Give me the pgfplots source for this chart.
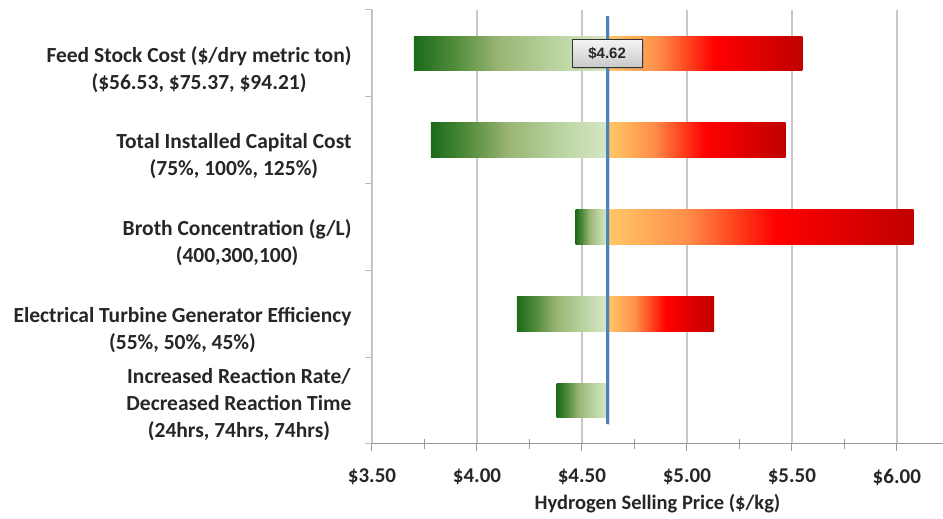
\documentclass[border=0pt]{standalone}
\usepackage{pgfplots}
\pgfplotsset{compat=1.18}
\usetikzlibrary{shadows}
\usepackage{fontspec}
\setmainfont{Carlito}
\newfontfamily\arialfont{Liberation Sans}

\definecolor{g0}{HTML}{1A6B1A}
\definecolor{g1}{HTML}{4F8A38}
\definecolor{g2}{HTML}{9AB574}
\definecolor{g3}{HTML}{BCD4A2}
\definecolor{g4}{HTML}{D5E7C5}
\definecolor{r0}{HTML}{FFC966}
\definecolor{r1}{HTML}{FF8E4A}
\definecolor{r2}{HTML}{FF4B22}
\definecolor{r3}{HTML}{FF0000}
\definecolor{r4}{HTML}{C00000}
\definecolor{gridgray}{HTML}{C8C8C8}
\definecolor{xaxisgray}{HTML}{9A9A9A}
\definecolor{yaxisgray}{HTML}{BDBDBD}
\definecolor{linblue}{HTML}{4F81BD}
\definecolor{txt}{HTML}{262626}
\definecolor{bxtop}{HTML}{F5F5F5}
\definecolor{bxbot}{HTML}{C9C9C9}

\pgfdeclarehorizontalshading{greenside}{100bp}{color(0bp)=(g0); color(25bp)=(g0); color(35bp)=(g1); color(47bp)=(g2); color(62bp)=(g3); color(75bp)=(g4); color(100bp)=(g4)}
\pgfdeclarehorizontalshading{redside}{100bp}{color(0bp)=(r0); color(25bp)=(r0); color(38bp)=(r1); color(45bp)=(r2); color(52.5bp)=(r3); color(75bp)=(r4); color(100bp)=(r4)}

\newcommand{\lblfont}{\bfseries\fontsize{21.5}{26.7}\selectfont}
\newcommand{\tickfont}{\bfseries\fontsize{21}{21}\selectfont}

\begin{document}
\begin{tikzpicture}
\begin{axis}[
  at={(0,0)}, anchor=south west,
  scale only axis, width=571pt, height=434pt,
  xmin=3.5, xmax=6.22, ymin=0.5, ymax=5.5,
  xtick={3.5,4,4.5,5,5.5,6},
  xticklabels={\$3.50,\$4.00,\$4.50,\$5.00,\$5.50,\$6.00},
  extra x ticks={3.75,4.25,4.75,5.25,5.75},
  extra x tick labels={},
  extra x tick style={xmajorgrids=false, major tick length=10pt, tick align=center},
  ytick={0.5,1.5,2.5,3.5,4.5,5.5}, yticklabels={},
  xmajorgrids,
  major x grid style={draw=gridgray, line width=1.5pt},
  axis x line*=bottom, axis y line*=left,
  x axis line style={-, draw=xaxisgray, line width=1pt},
  y axis line style={-, draw=yaxisgray, line width=1pt},
  xtick style={draw=xaxisgray, line width=1pt},
  ytick style={draw=yaxisgray, line width=1pt},
  tick align=outside, major tick length=7pt,
  ticklabel style={font=\tickfont, text=txt},
  xticklabel style={yshift=-14.5pt},
  xlabel={Hydrogen Selling Price (\$/kg)},
  xlabel style={font=\bfseries\fontsize{20.5}{20.5}\selectfont, text=txt,
     at={(axis description cs:0.5,0)}, anchor=base, yshift=-66pt},
  clip=false,
]
% Feed Stock Cost: 3.70 / 4.62 / 5.55
\addplot[draw=none, shade, shading=greenside] coordinates {(3.70,4.8) (4.62,4.8) (4.62,5.2) (3.70,5.2)};
\addplot[draw=none, shade, shading=redside] coordinates {(4.62,4.8) (5.55,4.8) (5.55,5.2) (4.62,5.2)};
% Total Installed Capital Cost: 3.78 / 4.62 / 5.47
\addplot[draw=none, shade, shading=greenside] coordinates {(3.78,3.8) (4.62,3.8) (4.62,4.2) (3.78,4.2)};
\addplot[draw=none, shade, shading=redside] coordinates {(4.62,3.8) (5.47,3.8) (5.47,4.2) (4.62,4.2)};
% Broth Concentration: 4.47 / 4.62 / 6.08
\addplot[draw=none, shade, shading=greenside] coordinates {(4.47,2.8) (4.62,2.8) (4.62,3.2) (4.47,3.2)};
\addplot[draw=none, shade, shading=redside] coordinates {(4.62,2.8) (6.08,2.8) (6.08,3.2) (4.62,3.2)};
% Electrical Turbine Generator Efficiency: 4.19 / 4.62 / 5.13
\addplot[draw=none, shade, shading=greenside] coordinates {(4.19,1.8) (4.62,1.8) (4.62,2.2) (4.19,2.2)};
\addplot[draw=none, shade, shading=redside] coordinates {(4.62,1.8) (5.13,1.8) (5.13,2.2) (4.62,2.2)};
% Reaction rate/time: 4.38 / 4.62
\addplot[draw=none, shade, shading=greenside] coordinates {(4.38,0.8) (4.62,0.8) (4.62,1.2) (4.38,1.2)};

\node[anchor=east, align=center, font=\lblfont, text=txt, xshift=-17pt, yshift=-16pt] at (axis cs:3.5,5) {Feed Stock Cost (\$/dry metric ton)\\(\$56.53, \$75.37, \$94.21)};
\node[anchor=east, align=center, font=\lblfont, text=txt, xshift=-17pt, yshift=-16pt] at (axis cs:3.5,4) {Total Installed Capital Cost\\(75\%, 100\%, 125\%)};
\node[anchor=east, align=center, font=\lblfont, text=txt, xshift=-17pt, yshift=-16pt] at (axis cs:3.5,3) {Broth Concentration (g/L)\\(400,300,100)};
\node[anchor=east, align=center, font=\lblfont, text=txt, xshift=-17pt, yshift=-16pt] at (axis cs:3.5,2) {Electrical Turbine Generator Efficiency\\(55\%, 50\%, 45\%)};
\node[anchor=east, align=center, font=\lblfont, text=txt, xshift=-17pt, yshift=-4pt] at (axis cs:3.5,1) {Increased Reaction Rate/\\Decreased Reaction Time\\(24hrs, 74hrs, 74hrs)};
\end{axis}

\begin{axis}[
  at={(0,0)}, anchor=south west,
  scale only axis, width=571pt, height=434pt,
  xmin=3.5, xmax=6.22, ymin=0.5, ymax=5.5,
  hide axis, clip=false,
]
\addplot[linblue, line width=3pt, drop shadow={opacity=0.25, shadow xshift=1pt, shadow yshift=-1pt}] coordinates {(4.62,0.735) (4.62,5.43)};
\node[draw=black!80, line width=1pt, top color=bxtop, bottom color=bxbot,
      minimum width=70pt, minimum height=28pt, inner sep=0pt,
      font=\arialfont\bfseries\fontsize{15}{15}\selectfont, text=txt,
      drop shadow={opacity=0.35, shadow xshift=2pt, shadow yshift=-2pt}]
  at (axis cs:4.62,5.0) {\$4.62};
\end{axis}
\pgfresetboundingbox
\useasboundingbox (-372pt,-75pt) rectangle (571pt,444pt);
\end{tikzpicture}
\end{document}
